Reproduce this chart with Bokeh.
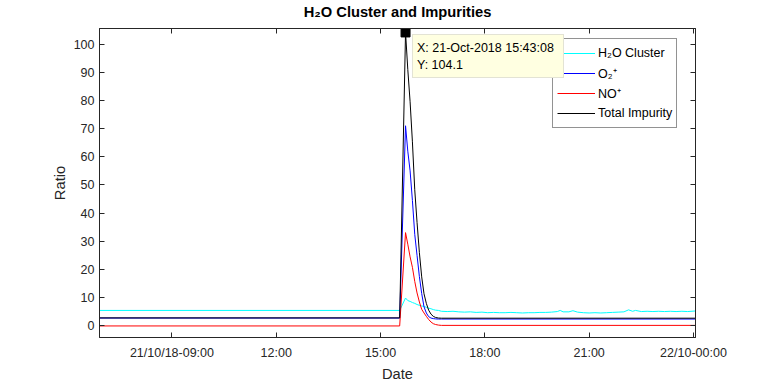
import pandas as pd
from bokeh.plotting import figure
from bokeh.models import (ColumnDataSource, Range1d, FixedTicker, DatetimeAxis,
                          LinearAxis, Legend, LegendItem)
from bokeh.embed import file_html
from bokeh.resources import INLINE

# ---------------- data ----------------
main_times = ["2018-10-21 06:55:00", "2018-10-21 15:33:00", "2018-10-21 15:43:08",
              "2018-10-21 15:47:00", "2018-10-21 15:51:00", "2018-10-21 15:55:00",
              "2018-10-21 15:59:00", "2018-10-21 16:03:00", "2018-10-21 16:07:00",
              "2018-10-21 16:11:00", "2018-10-21 16:15:00", "2018-10-21 16:19:00",
              "2018-10-21 16:23:00", "2018-10-21 16:27:00", "2018-10-21 16:31:00",
              "2018-10-21 16:35:00", "2018-10-21 16:40:00", "2018-10-21 16:45:00",
              "2018-10-22 00:03:00"]
o2_plus = [2.8, 2.8, 71.0, 62.0, 55.0, 44.5, 32.5, 25.0, 17.5, 11.5, 6.8, 4.6,
           3.3, 2.8, 2.6, 2.5, 2.45, 2.45, 2.45]
no_plus = [0.0, 0.0, 33.1, 29.0, 24.5, 20.8, 15.8, 11.7, 8.5, 5.9, 4.6, 3.4,
           2.3, 1.4, 0.8, 0.5, 0.3, 0.2, 0.2]
total_impurity = [2.85, 2.85, 104.1, 91.0, 79.5, 65.3, 48.3, 36.7, 26.0, 17.4, 11.4, 8.0,
                  5.6, 4.2, 3.4, 3.0, 2.8, 2.75, 2.75]

h2o_times = ["2018-10-21 06:55:00", "2018-10-21 15:33:00", "2018-10-21 15:43:08",
             "2018-10-21 15:47:00", "2018-10-21 15:51:00", "2018-10-21 15:55:00",
             "2018-10-21 15:59:00", "2018-10-21 16:03:00", "2018-10-21 16:07:00",
             "2018-10-21 16:11:00", "2018-10-21 16:15:00", "2018-10-21 16:19:00",
             "2018-10-21 16:23:00", "2018-10-21 16:27:00", "2018-10-21 16:31:00",
             "2018-10-21 16:35:00", "2018-10-21 16:40:00", "2018-10-21 16:45:00",
             "2018-10-21 16:55:00", "2018-10-21 17:05:00", "2018-10-21 17:15:00",
             "2018-10-21 17:25:00", "2018-10-21 17:35:00", "2018-10-21 17:45:00",
             "2018-10-21 17:55:00", "2018-10-21 18:05:00", "2018-10-21 18:15:00",
             "2018-10-21 18:25:00", "2018-10-21 18:35:00", "2018-10-21 18:45:00",
             "2018-10-21 18:55:00", "2018-10-21 19:05:00", "2018-10-21 19:15:00",
             "2018-10-21 19:25:00", "2018-10-21 19:35:00", "2018-10-21 19:45:00",
             "2018-10-21 19:55:00", "2018-10-21 20:05:00", "2018-10-21 20:10:00",
             "2018-10-21 20:15:00", "2018-10-21 20:25:00", "2018-10-21 20:32:00",
             "2018-10-21 20:40:00", "2018-10-21 20:50:00", "2018-10-21 21:00:00",
             "2018-10-21 21:10:00", "2018-10-21 21:20:00", "2018-10-21 21:30:00",
             "2018-10-21 21:40:00", "2018-10-21 21:50:00", "2018-10-21 22:00:00",
             "2018-10-21 22:08:00", "2018-10-21 22:15:00", "2018-10-21 22:20:00",
             "2018-10-21 22:30:00", "2018-10-21 22:40:00", "2018-10-21 22:50:00",
             "2018-10-21 23:00:00", "2018-10-21 23:10:00", "2018-10-21 23:20:00",
             "2018-10-21 23:30:00", "2018-10-21 23:40:00", "2018-10-21 23:50:00",
             "2018-10-22 00:03:00"]
h2o_cluster = [5.5, 5.5, 9.9, 9.0, 8.7, 8.3, 8.0, 7.6, 7.3, 7.1, 6.9, 6.6,
               6.3, 6.1, 5.8, 5.6, 5.5, 5.2,
               5.1, 5.2, 5.0, 4.9, 5.0, 4.8, 4.9, 4.7, 4.8, 4.7, 4.7, 4.8,
               4.7, 4.6, 4.7, 4.7, 4.8, 4.8, 4.9, 5.1, 5.5, 5.0, 5.0, 5.4,
               4.9, 4.7, 4.6, 4.7, 4.6, 4.7, 4.8, 4.9, 5.0, 5.7, 5.2, 5.5,
               5.1, 5.2, 5.1, 5.2, 5.1, 5.2, 5.1, 5.2, 5.1, 5.3]

x_limits = ["2018-10-21 06:55:00", "2018-10-22 00:03:30"]
y_limits = [-4.1, 105.5]
x_tick_times = ["2018-10-21 09:00:00", "2018-10-21 12:00:00", "2018-10-21 15:00:00",
                "2018-10-21 18:00:00", "2018-10-21 21:00:00", "2018-10-22 00:00:00"]
x_tick_labels = ["21/10/18-09:00", "12:00", "15:00", "18:00", "21:00", "22/10-00:00"]
y_ticks = [0, 10, 20, 30, 40, 50, 60, 70, 80, 90, 100]

peak_index = 2
datatip_date = "21-Oct-2018 15:43:08"
title_text = "H\u2082O Cluster and Impurities"

# ---------------- helpers ----------------
def to_ms(s):
    return int(pd.Timestamp(s).value // 10**6)

FONT = "Liberation Sans"
AX = "#262626"

main_src = ColumnDataSource(dict(t=pd.to_datetime(main_times), o2=o2_plus,
                                 no=no_plus, tot=total_impurity))
h2o_src = ColumnDataSource(dict(t=pd.to_datetime(h2o_times), v=h2o_cluster))

p = figure(width=768, height=384, output_backend="svg", toolbar_location=None,
           title=None, x_axis_type="datetime",
           x_range=Range1d(to_ms(x_limits[0]), to_ms(x_limits[1])),
           y_range=Range1d(y_limits[0], y_limits[1]),
           min_border_left=99, min_border_right=73, min_border_top=28,
           min_border_bottom=44)

p.xgrid.grid_line_color = None
p.ygrid.grid_line_color = None
p.outline_line_color = AX
p.background_fill_color = "white"
p.border_fill_color = "white"

r_h2o = p.line("t", "v", source=h2o_src, color="#00FFFF", line_width=1,
               legend_label="H\u2082O Cluster")
r_o2 = p.line("t", "o2", source=main_src, color="#0000FF", line_width=1,
              legend_label="O\u2082\u207A")
r_no = p.line("t", "no", source=main_src, color="#FF0000", line_width=1,
              legend_label="NO\u207A")
r_tot = p.line("t", "tot", source=main_src, color="#000000", line_width=1,
               legend_label="Total Impurity")

tick_ms = [to_ms(t) for t in x_tick_times]

def style_axis(ax):
    ax.axis_line_color = AX
    ax.major_tick_line_color = AX
    ax.major_tick_in = 5
    ax.major_tick_out = 0
    ax.minor_tick_in = 0
    ax.minor_tick_out = 0
    ax.minor_tick_line_color = None
    ax.major_label_text_font = FONT
    ax.major_label_text_font_size = "12.5px"
    ax.major_label_text_color = AX
    ax.axis_label_text_font = FONT
    ax.axis_label_text_font_size = "14.7px"
    ax.axis_label_text_font_style = "normal"
    ax.axis_label_text_color = AX

xa = p.xaxis[0]
style_axis(xa)
xa.ticker = FixedTicker(ticks=tick_ms)
xa.major_label_overrides = {t: lab for t, lab in zip(tick_ms, x_tick_labels)}
xa.major_label_standoff = 8
xa.axis_label = "Date"
xa.axis_label_standoff = 3

ya = p.yaxis[0]
style_axis(ya)
ya.ticker = FixedTicker(ticks=y_ticks)
ya.major_label_standoff = 5
ya.axis_label = "Ratio"
ya.axis_label_standoff = 3

# top axis: inward ticks, and the chart title as its label
top_ax = DatetimeAxis(ticker=FixedTicker(ticks=tick_ms))
style_axis(top_ax)
top_ax.major_label_text_font_size = "1px"
top_ax.major_label_text_color = None
top_ax.major_label_standoff = 0
top_ax.axis_label = title_text
top_ax.axis_label_text_font_style = "bold"
top_ax.axis_label_text_color = "#000000"
top_ax.axis_label_standoff = 9
p.add_layout(top_ax, "above")

right_ax = LinearAxis(ticker=FixedTicker(ticks=y_ticks))
style_axis(right_ax)
right_ax.major_label_text_font_size = "1px"
right_ax.major_label_text_color = None
right_ax.major_label_standoff = 0
p.add_layout(right_ax, "right")

# legend
leg = p.legend[0]
leg.location = (453, 209)
leg.label_text_font = FONT
leg.label_text_font_size = "12.5px"
leg.label_text_color = "#000000"
leg.glyph_width = 38
leg.glyph_height = 20
leg.label_height = 20
leg.label_standoff = 3
leg.spacing = 0
leg.padding = 4
leg.margin = 0
leg.border_line_color = AX
leg.border_line_width = 1
leg.background_fill_color = "white"
leg.background_fill_alpha = 1

# data tip at the peak of the total impurity
peak_t = pd.Timestamp(main_times[peak_index])
peak_v = total_impurity[peak_index]
r_peak = p.scatter(x=[peak_t], y=[peak_v], marker="square", size=9,
                   fill_color="black", line_color="black")

tip = Legend(items=[LegendItem(label=f"X: {datatip_date}", renderers=[r_peak]),
                    LegendItem(label=f"Y: {peak_v}", renderers=[r_peak])],
             location=(313, 259))
tip.label_text_font = FONT
tip.label_text_font_size = "12.5px"
tip.label_text_color = "#000000"
tip.glyph_width = 0
tip.glyph_height = 17
tip.label_height = 17
tip.label_width = 142
tip.label_standoff = 0
tip.spacing = 0
tip.padding = 4
tip.margin = 0
tip.border_line_color = "#C8C8C8"
tip.border_line_width = 1
tip.background_fill_color = "#FFFFE1"
tip.background_fill_alpha = 1
p.add_layout(tip)

open("out.html", "w").write(file_html(p, INLINE))
